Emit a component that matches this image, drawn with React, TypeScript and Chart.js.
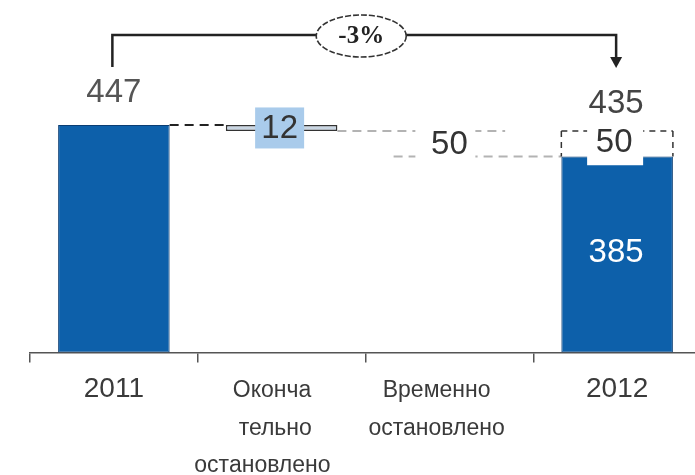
import React, { useEffect, useRef } from "react";
import { Chart, registerables } from "chart.js";

Chart.register(...registerables);

// Waterfall: 2011 capacity, permanent and temporary shutdowns, 2012 capacity
const categories: (string | string[])[] = [
  "2011",
  ["Оконча   ", "тельно  ", "остановлено      "],
  ["Временно    ", "остановлено    "],
  "2012",
];
// solid bars (floating ranges): 2011 total, permanently stopped step, -, 2012 running
const solidLow: (number | null)[] = [0, 435, null, 0];
const solidHigh: (number | null)[] = [447, 447, null, 385];
// outlined (dashed) ranges: temporarily stopped step and its share of 2012
const openLow: (number | null)[] = [null, null, 385, 385];
const openHigh: (number | null)[] = [null, null, 435, 435];

const BLUE = "#0d60aa";
const FONT = "'Liberation Sans', Arial, sans-serif";

const toRanges = (lo: (number | null)[], hi: (number | null)[]) =>
  lo.map((l, i) => (l === null || hi[i] === null ? null : [l, hi[i] as number]));

type Box = { left: number; right: number; top: number; bottom: number; cx: number; cy: number };

const boxOf = (el: any): Box => {
  const p = el.getProps(["x", "y", "base", "width"], true);
  const top = Math.min(p.y, p.base);
  const bottom = Math.max(p.y, p.base);
  return {
    left: p.x - p.width / 2,
    right: p.x + p.width / 2,
    top,
    bottom,
    cx: p.x,
    cy: (top + bottom) / 2,
  };
};

const annotations = {
  id: "waterfallAnnotations",
  afterDatasetsDraw(chart: any) {
    const { ctx, chartArea } = chart;
    const solid = chart.getDatasetMeta(0).data;
    const open = chart.getDatasetMeta(1).data;
    const b0 = boxOf(solid[0]);
    const b1 = boxOf(solid[1]);
    const b2 = boxOf(open[2]);
    const b3 = boxOf(solid[3]);
    const o3 = boxOf(open[3]);

    const line = (x1: number, y1: number, x2: number, y2: number, color: string, w: number, dash: number[]) => {
      ctx.save();
      ctx.strokeStyle = color;
      ctx.lineWidth = w;
      ctx.setLineDash(dash);
      ctx.beginPath();
      ctx.moveTo(x1, y1);
      ctx.lineTo(x2, y2);
      ctx.stroke();
      ctx.restore();
    };
    const rect = (cx: number, cy: number, w: number, h: number, color: string) => {
      ctx.save();
      ctx.fillStyle = color;
      ctx.fillRect(cx - w / 2, cy - h / 2, w, h);
      ctx.restore();
    };
    const text = (s: string, x: number, y: number, color: string, font: string) => {
      ctx.save();
      ctx.fillStyle = color;
      ctx.font = font;
      ctx.textAlign = "center";
      ctx.textBaseline = "middle";
      ctx.fillText(s, x, y);
      ctx.restore();
    };

    // connectors between steps
    line(b0.right, b0.top, b1.left, b0.top, "#222", 2, [9, 6]);
    line(b1.right, b2.top, b2.right, b2.top, "#b3b3b3", 2, [9, 6]);
    line(b2.left, b2.bottom, o3.left, b2.bottom, "#b3b3b3", 2, [9, 6]);

    // dashed outline of the temporarily stopped part of 2012
    line(o3.left, o3.top, o3.right, o3.top, "#333", 1.5, [6, 5]);
    line(o3.left, o3.top, o3.left, o3.bottom, "#333", 1.5, [6, 5]);
    line(o3.right, o3.top, o3.right, o3.bottom, "#333", 1.5, [6, 5]);

    const valueFont = `33px ${FONT}`;

    // step labels
    const permanent = (solidHigh[1] as number) - (solidLow[1] as number);
    rect(b1.cx - 2, b1.cy, 49, 41, "#a9cbeb");
    text(String(permanent), b1.cx - 2, b1.cy + 1, "#333", valueFont);

    const temporary = (openHigh[2] as number) - (openLow[2] as number);
    rect(b2.cx - 4, b2.cy, 60, 40, "#ffffff");
    text(String(temporary), b2.cx, b2.cy + 1, "#333", valueFont);

    const temporary12 = (openHigh[3] as number) - (openLow[3] as number);
    rect(o3.cx - 2, o3.cy + 3, 56, 37, "#ffffff");
    text(String(temporary12), o3.cx - 3, o3.cy - 1, "#333", valueFont);

    // totals
    const total11 = solidHigh[0] as number;
    const total12 = openHigh[3] as number;
    const running12 = solidHigh[3] as number;
    text(String(total11), b0.cx, b0.top - 32, "#555", valueFont);
    text(String(total12), o3.cx - 1, o3.top - 27, "#444", valueFont);
    text(String(running12), b3.cx - 1, b3.cy - 2, "#ffffff", valueFont);

    // change bracket from 2011 to 2012
    const topY = chartArea.top - 12;
    const xl = b0.cx - 1.5;
    const xr = b3.cx - 1;
    const tipY = topY + 33;
    ctx.save();
    ctx.strokeStyle = "#222";
    ctx.lineWidth = 2.5;
    ctx.beginPath();
    ctx.moveTo(xl, topY + 32);
    ctx.lineTo(xl, topY);
    ctx.lineTo(xr, topY);
    ctx.lineTo(xr, tipY - 10);
    ctx.stroke();
    ctx.fillStyle = "#222";
    ctx.beginPath();
    ctx.moveTo(xr - 6, tipY - 11);
    ctx.lineTo(xr + 6, tipY - 11);
    ctx.lineTo(xr, tipY);
    ctx.closePath();
    ctx.fill();

    const ex = (xl + xr) / 2 - 3;
    const ey = topY + 1;
    ctx.beginPath();
    ctx.ellipse(ex, ey, 45, 21, 0, 0, Math.PI * 2);
    ctx.fillStyle = "#ffffff";
    ctx.fill();
    ctx.strokeStyle = "#333";
    ctx.lineWidth = 1.6;
    ctx.setLineDash([6, 2]);
    ctx.stroke();
    ctx.restore();

    const pct = Math.round(((total12 - total11) / total11) * 100);
    text(`${pct}%`, ex, ey + 1, "#222", `bold 25px 'Liberation Serif', 'Times New Roman', serif`);
  },
};

export default function App() {
  const ref = useRef<HTMLCanvasElement>(null);

  useEffect(() => {
    if (!ref.current) return;
    const chart = new Chart(ref.current, {
      type: "bar",
      data: {
        labels: categories,
        datasets: [
          {
            data: toRanges(solidLow, solidHigh) as any,
            grouped: false,
            categoryPercentage: 1,
            barPercentage: 0.665,
            backgroundColor: (c: any) => (c.dataIndex === 1 ? "#c9d6e3" : BLUE),
            borderColor: (c: any) => (c.dataIndex === 1 ? "#333" : "#0a3d73"),
            borderWidth: (c: any) => (c.dataIndex === 1 ? 1.5 : 1),
            borderSkipped: false,
          } as any,
          {
            data: toRanges(openLow, openHigh) as any,
            grouped: false,
            categoryPercentage: 1,
            barPercentage: 0.665,
            backgroundColor: "rgba(0,0,0,0)",
            borderWidth: 0,
          } as any,
        ],
      },
      options: {
        animation: false,
        responsive: true,
        maintainAspectRatio: false,
        layout: { padding: { left: 30, right: 0, top: 47, bottom: 0 } },
        plugins: { legend: { display: false }, tooltip: { enabled: false } },
        scales: {
          x: {
            offset: true,
            grid: {
              offset: true,
              drawOnChartArea: false,
              drawTicks: true,
              tickLength: 10,
              color: "#555",
              lineWidth: 1.5,
            },
            border: { display: true, color: "#555", width: 1.5 },
            ticks: {
              padding: 10,
              color: "#3a3a3a",
              autoSkip: false,
              maxRotation: 0,
              font: (c: any) =>
                c.index === 0 || c.index === 3
                  ? { family: FONT, size: 28, lineHeight: 1.2 }
                  : { family: FONT, size: 23, lineHeight: 1.62 },
            },
            afterFit: (scale: any) => {
              scale.height = 122.5;
            },
          },
          y: { display: false, min: 0, max: 600 },
        },
      },
      plugins: [annotations],
    });
    return () => chart.destroy();
  }, []);

  return (
    <div
      style={{
        position: "fixed",
        left: 0,
        top: 0,
        width: 695,
        height: 475,
        overflow: "hidden",
        background: "#fff",
      }}
    >
      <div style={{ width: 701, height: 475, position: "relative" }}>
        <canvas ref={ref} />
      </div>
    </div>
  );
}
